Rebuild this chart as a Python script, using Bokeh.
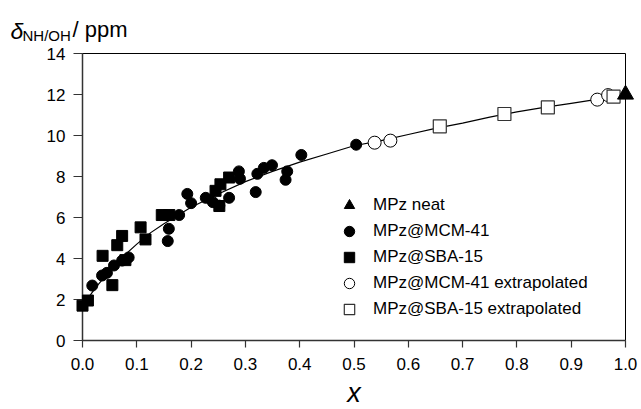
from bokeh.plotting import figure
from bokeh.models import (FixedTicker, PrintfTickFormatter, Legend, LegendItem, Range1d)
from bokeh.core.properties import value
from bokeh.embed import file_html
from bokeh.resources import INLINE

# ---- data ----
neat_x = [1.0]
neat_y = [12.0]

mcm_x = [0.018, 0.036, 0.045, 0.058, 0.073, 0.085, 0.157, 0.159, 0.178, 0.193,
         0.200, 0.227, 0.240, 0.252, 0.270, 0.288, 0.290, 0.319, 0.322, 0.334,
         0.349, 0.374, 0.377, 0.403, 0.504]
mcm_y = [2.68, 3.17, 3.30, 3.66, 3.90, 4.05, 4.85, 5.45, 6.12, 7.15,
         6.70, 6.96, 6.75, 6.58, 6.96, 8.25, 7.89, 7.24, 8.13, 8.42,
         8.55, 7.84, 8.25, 9.05, 9.55]

sba_x = [0.000, 0.010, 0.037, 0.055, 0.064, 0.073, 0.079, 0.107, 0.116, 0.146,
         0.160, 0.245, 0.254, 0.270, 0.252]
sba_y = [1.70, 1.95, 4.13, 2.70, 4.65, 5.10, 3.92, 5.52, 4.93, 6.12,
         6.12, 7.30, 7.62, 7.95, 6.56]

mcm_ext_x = [0.538, 0.567, 0.948, 0.968]
mcm_ext_y = [9.65, 9.75, 11.75, 11.97]

sba_ext_x = [0.658, 0.777, 0.857, 0.978]
sba_ext_y = [10.45, 11.05, 11.37, 11.90]

fit_x = [0.0, 0.025, 0.05, 0.075, 0.1, 0.125, 0.15, 0.2, 0.25, 0.3, 0.35, 0.4,
         0.45, 0.5, 0.55, 0.6, 0.65, 0.7, 0.75, 0.8, 0.85, 0.9, 0.95, 1.0]
fit_y = [1.7, 2.6, 3.4, 4.1, 4.7, 5.25, 5.7, 6.5, 7.15, 7.75, 8.25, 8.7,
         9.1, 9.5, 9.75, 10.05, 10.35, 10.6, 10.9, 11.15, 11.37, 11.57, 11.77, 11.95]

x_ticks = [0.0, 0.1, 0.2, 0.3, 0.4, 0.5, 0.6, 0.7, 0.8, 0.9, 1.0]
y_ticks = [0, 2, 4, 6, 8, 10, 12, 14]

X_MIN, X_MAX = 0.0, 1.0
Y_MIN, Y_MAX = 0.0, 14.0

FONT = "Liberation Sans"

p = figure(output_backend="svg", toolbar_location=None, title=None,
           frame_width=543, frame_height=287,
           x_range=Range1d(X_MIN, X_MAX), y_range=Range1d(Y_MIN, Y_MAX),
           min_border_left=82, min_border_right=16,
           min_border_top=53, min_border_bottom=69)
p.background_fill_color = "white"
p.border_fill_color = "white"
p.grid.visible = False
p.outline_line_color = "black"
p.outline_line_width = 1

for ax in (p.xaxis[0], p.yaxis[0]):
    ax.axis_line_color = "#333333"
    ax.axis_line_width = 1.5
    ax.major_tick_line_color = "#333333"
    ax.major_tick_line_width = 1.2
    ax.major_tick_in = 0
    ax.minor_tick_line_color = None
    ax.major_label_text_font = FONT
    ax.major_label_text_font_size = "17px"
    ax.major_label_text_color = "black"

p.xaxis.ticker = FixedTicker(ticks=x_ticks)
p.yaxis.ticker = FixedTicker(ticks=y_ticks)
p.xaxis.formatter = PrintfTickFormatter(format="%.1f")
p.yaxis.formatter = PrintfTickFormatter(format="%d")
p.xaxis.major_tick_out = 7
p.yaxis.major_tick_out = 9
p.xaxis.major_label_standoff = 10
p.yaxis.major_label_standoff = 8

# fitted curve
p.line(fit_x, fit_y, line_color="black", line_width=1.2)

r_sba = p.scatter(sba_x, sba_y, marker="square", size=11, fill_color="black",
                  line_color="black", level="overlay")
r_mcm = p.scatter(mcm_x, mcm_y, marker="circle", size=11, fill_color="black",
                  line_color="black", level="overlay")
r_mcm_ext = p.scatter(mcm_ext_x, mcm_ext_y, marker="circle", size=13,
                      fill_color="white", line_color="black", line_width=1,
                      level="overlay")
r_sba_ext = p.scatter(sba_ext_x, sba_ext_y, marker="square", size=13,
                      fill_color="white", line_color="#333333", line_width=1.2,
                      level="overlay")
r_neat = p.scatter(neat_x, neat_y, marker="triangle", size=16, fill_color="black",
                   line_color="black", level="overlay")

legend = Legend(items=[
    LegendItem(label="MPz neat", renderers=[r_neat]),
    LegendItem(label="MPz@MCM-41", renderers=[r_mcm]),
    LegendItem(label="MPz@SBA-15", renderers=[r_sba]),
    LegendItem(label="MPz@MCM-41 extrapolated", renderers=[r_mcm_ext]),
    LegendItem(label="MPz@SBA-15 extrapolated", renderers=[r_sba_ext]),
], location=(254, 18), glyph_width=26, glyph_height=26, label_height=26,
   spacing=0, padding=0, margin=0, label_standoff=11,
   border_line_color=None, background_fill_alpha=0,
   label_text_font=FONT, label_text_font_size="17px", label_text_color="black")
p.add_layout(legend)

# axis titles: anchored at the frame corners, shifted by pixel offsets
def title_text(x, y, txt, dx, dy, size, style="normal", align="left",
               baseline="alphabetic"):
    p.text(x=[x], y=[y], text=[txt], x_offset=dx, y_offset=dy,
           text_font=value(FONT), text_font_size=size, text_font_style=style,
           text_color="black", text_align=align, text_baseline=baseline,
           level="overlay")

title_text(X_MIN, Y_MAX, "δ", -72, -23, "23px", "italic")
title_text(X_MIN, Y_MAX, "NH/OH", -60, -18, "15px")
title_text(X_MIN, Y_MAX, "/ ppm", -10, -24, "22px")
title_text((X_MIN + X_MAX) / 2, Y_MIN, "x", 0, 52, "27px", "italic", "center")

open("out.html", "w").write(file_html(p, INLINE))
